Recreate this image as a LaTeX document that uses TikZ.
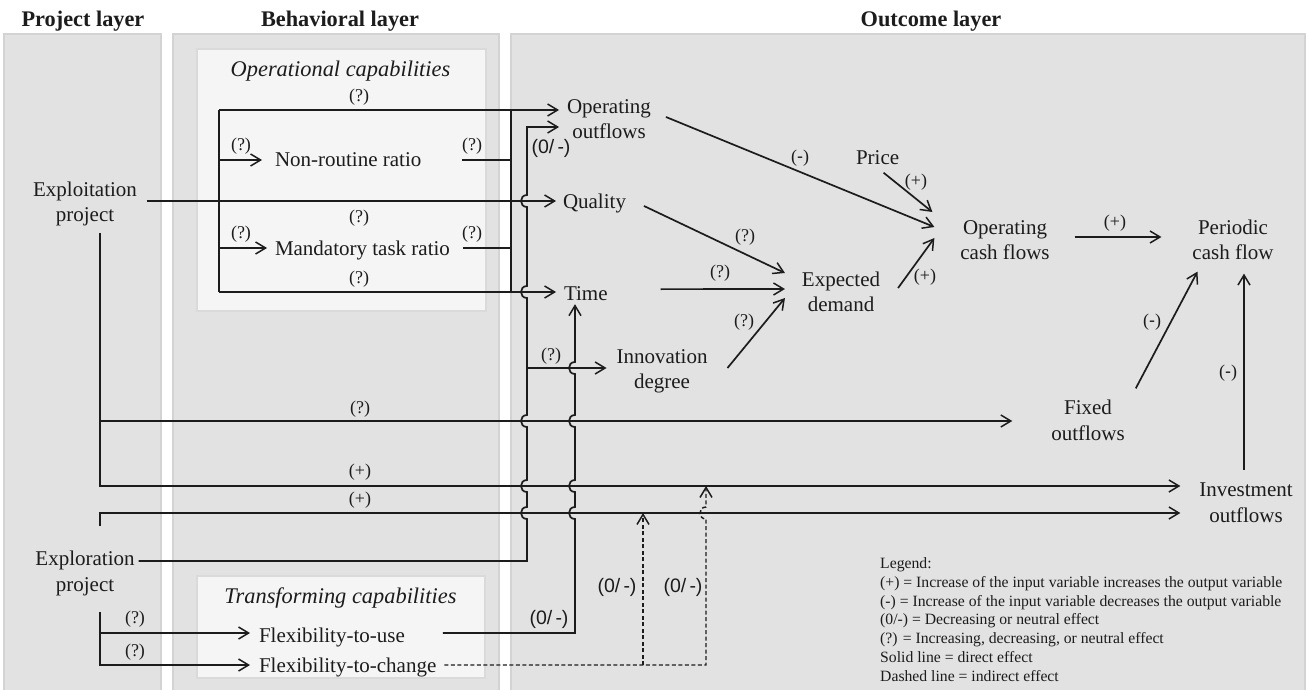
\documentclass[tikz,border=0pt]{standalone}
\usepackage{fontspec}
\setmainfont{Liberation Serif}
\newfontfamily\labsans{Liberation Sans}
\usetikzlibrary{arrows.meta,calc}
\definecolor{panelgray}{HTML}{E2E2E2}
\definecolor{panelline}{HTML}{D3D3D3}
\definecolor{boxgray}{HTML}{F5F5F5}
\definecolor{boxline}{HTML}{DADADA}
\definecolor{ink}{HTML}{1C1C1C}
\begin{document}
\begin{tikzpicture}[x=1pt,y=-1pt,
  panel/.style={fill=panelgray,draw=panelline,line width=1.3pt},
  inbox/.style={fill=boxgray,draw=boxline,line width=1.5pt},
  ln/.style={draw=ink,line width=1.7pt},
  arr/.style={-{Straight Barb[length=10pt,width=12pt,line width=1.5pt]}},
  dsh/.style={draw=ink,line width=1.45pt,dash pattern=on 4pt off 2.5pt},
  txt/.style={font=\fontsize{21}{25.5}\selectfont,inner sep=4pt,outer sep=0pt,align=center,text=ink},
  one/.style={font=\fontsize{21}{25.5}\selectfont,inner sep=4pt,outer sep=0pt,text=ink},
  ttl/.style={font=\bfseries\fontsize{22.3}{26}\selectfont,inner sep=0pt,text=ink},
  captl/.style={font=\itshape\fontsize{22.4}{26}\selectfont,inner sep=0pt,text=ink},
  lab/.style={font=\fontsize{18}{20}\selectfont,inner sep=0pt,text=ink},
  labs/.style={font=\labsans\fontsize{19.5}{21}\selectfont,inner sep=0pt,text=ink},
  leg/.style={font=\fontsize{15.7}{18.9}\selectfont,inner sep=0pt,text=ink},
  hopat/.style 2 args={insert path={-- (#1,#2+6) .. controls (#1-8,#2+6) and (#1-8,#2-6) .. (#1,#2-6)}},
]
\useasboundingbox (0,0) rectangle (1307,690);
\fill[white] (0,0) rectangle (1307,690);

% panels
\path[panel] (4,34) rectangle (161,700);
\path[panel] (173,34) rectangle (499,700);
\path[panel] (511,34) rectangle (1305,700);
\path[inbox] (197,49) rectangle (486,311);
\path[inbox] (197,576) rectangle (485,678);

% titles
\node[ttl,anchor=base] (tproj) at (83,27) {Project layer};
\node[ttl,anchor=base] (tbeh) at (340,27) {Behavioral layer};
\node[ttl,anchor=base] (tout) at (931,27) {Outcome layer};
\node[captl,anchor=base] (topc) at (340.5,77) {Operational capabilities};
\node[captl,anchor=base] (ttrc) at (340.5,603) {Transforming capabilities};

% nodes
\node[txt] (explt) at (85,204) {Exploitation\\project};
\node[txt] (explr) at (85,573.5) {Exploration\\project};
\node[one,anchor=base west] (nonr) at (271,167) {Non-routine ratio};
\node[one,anchor=base west] (mand) at (271,255) {Mandatory task ratio};
\node[txt] (opout) at (609,119) {Operating\\outflows};
\node[one,anchor=base west] (qual) at (559,208) {Quality};
\node[one,anchor=base west] (time) at (560,300) {Time};
\node[txt] (innov) at (662,371.5) {Innovation\\degree};
\node[one,anchor=base west] (price) at (852,164.5) {Price};
\node[txt] (ed) at (841,292) {Expected\\demand};
\node[txt] (ocf) at (1005,240) {Operating\\cash flows};
\node[txt] (pcf) at (1233,240) {Periodic\\cash flow};
\node[txt] (fixed) at (1088,420.5) {Fixed\\outflows};
\node[txt] (inv) at (1246,502.5) {Investment\\outflows};
\node[one,anchor=base west] (fuse) at (255,642) {Flexibility-to-use};
\node[one,anchor=base west] (fchg) at (255,672) {Flexibility-to-change};

% legend
\node[leg,anchor=base west] (lg0) at (880,568) {Legend:};
\node[leg,anchor=base west] (lg1) at (880,587) {(+) = Increase of the input variable increases the output variable};
\node[leg,anchor=base west] (lg2) at (880,606) {(-) = Increase of the input variable decreases the output variable};
\node[leg,anchor=base west] (lg3) at (880,624.5) {(0/-) = Decreasing or neutral effect};
\node[leg,anchor=base west] (lg4) at (880,643.5) {(?) = Increasing, decreasing, or neutral effect};
\node[leg,anchor=base west] (lg5) at (880,662.5) {Solid line = direct effect};
\node[leg,anchor=base west] (lg6) at (880,681) {Dashed line = indirect effect};

% coordinates
\coordinate (b1) at (219,110);
\coordinate (b2) at (219,292);
\coordinate (b3) at (219,160);
\coordinate (b4) at (219,248);
\coordinate (u1) at (511,110);
\coordinate (u2) at (511,292);
\coordinate (a1) at (527,561);
\coordinate (a2) at (527,127);
\coordinate (a3) at (527,368);
\coordinate (bb1) at (575,633);
\coordinate (c1) at (100,486);
\coordinate (c2) at (100,421);
\coordinate (e1) at (100,526);
\coordinate (e2) at (100,513);
\coordinate (e3) at (100,612);
\coordinate (e4) at (100,665);
\coordinate (e5) at (100,633);
\coordinate (d0) at (706,665);
\coordinate (d1) at (706,486);
\coordinate (d2) at (643,665);
\coordinate (d3) at (643,513);

% Exploitation -> Quality and operational bracket
\draw[ln,arr,shorten <=6pt,shorten >=3pt] (explt.east |- 0,201) -- (qual.west |- 0,201);
\draw[ln,arr,shorten >=4pt] (b1) -- (opout.west |- b1);
\draw[ln] (b1) -- (b2);
\draw[ln,arr,shorten >=4pt] (b2) -- (time.west |- b2);
\draw[ln,arr,shorten >=9pt] (b3) -- (nonr.west |- b3);
\draw[ln,arr,shorten >=4pt] (b4) -- (mand.west |- b4);
\draw[ln] (u1) -- (u2);
\draw[ln,shorten <=37pt] (nonr.east |- b3) -- (u1 |- b3);
\draw[ln,shorten <=9pt] (mand.east |- b4) -- (u1 |- b4);

% Exploration -> Operating outflows (with hops)
\draw[ln,arr,shorten >=4pt] (explr.east |- a1) -- (a1) [hopat={527}{513}] [hopat={527}{486}] [hopat={527}{421}] [hopat={527}{292}] [hopat={527}{201}] -- (a2) -- (opout.west |- a2);
\draw[ln,arr,shorten >=6pt] (a3) -- (innov.west |- a3);

% Flexibility-to-use -> Time
\draw[ln,arr,shorten <=34pt] (fuse.east |- bb1) -- (bb1) [hopat={575}{513}] [hopat={575}{486}] [hopat={575}{421}] [hopat={575}{368}] -- (time.south -| bb1);

% Exploitation down
\draw[ln,arr,shorten <=3pt,shorten >=15pt] (explt.south -| c1) -- (c1) -- (inv.west |- c1);
\draw[ln,arr,shorten >=35pt] (c2) -- (fixed.west |- c2);

% Exploration branches
\draw[ln,arr,shorten >=15pt] (e1) -- (e2) -- (inv.west |- e2);
\draw[ln,arr,shorten >=5pt] (e3) -- (e4) -- (fchg.west |- e4);
\draw[ln,arr,shorten >=5pt] (e5) -- (fuse.west |- e5);

% dashed indirect effects
\draw[dsh,arr,shorten <=4pt] (fchg.east |- d0) -- (d0) [hopat={706}{513}] -- (d1);
\draw[dsh,arr] (d2) -- (d3);

% diagonals in outcome layer
\draw[ln,arr] ($(opout.east)+(11,-2)$) -- ($(ocf.west)+(-22,-13)$);
\draw[ln,arr] ($(price.south)+(6,4)$) -- ($(ocf.west)+(-24,-28)$);
\draw[ln,arr] ($(qual.east)+(14,3)$) -- ($(ed.west)+(-13,-19)$);
\draw[ln,arr] ($(time.east)+(49,-4)$) -- ($(ed.west)+(-13,-3)$);
\draw[ln,arr] ($(innov.east)+(16,-3.5)$) -- ($(ed.west)+(-13,6)$);
\draw[ln,arr] ($(ed.east)+(14,-4)$) -- ($(ocf.west)+(-22,-2)$);
\draw[ln,arr] ($(ocf.east)+(21,-3)$) -- ($(pcf.west)+(-27,-3)$);
\draw[ln,arr] ($(fixed.north east)+(7,-8)$) -- ($(pcf.south west)+(9,7.5)$);
\draw[ln,arr] ($(inv.north)+(-2,-9)$) -- ($(pcf.south)+(11,9.5)$);

% labels
\node[lab] (q1) at (359,97) {(?)};
\node[lab] (q2) at (241,146) {(?)};
\node[lab] (q3) at (472,146) {(?)};
\node[lab] (q4) at (359,218) {(?)};
\node[lab] (q5) at (241,234) {(?)};
\node[lab] (q6) at (472,234) {(?)};
\node[lab] (q7) at (359,279) {(?)};
\node[labs] (z1) at (551,148) {(0/\,-)};
\node[lab] (q8) at (551,356) {(?)};
\node[lab] (m1) at (800,158) {({\labsans -})};
\node[lab] (p1) at (916,182) {(+)};
\node[lab] (q9) at (745,237) {(?)};
\node[lab] (q10) at (720,273) {(?)};
\node[lab] (q11) at (744,322) {(?)};
\node[lab] (p2) at (925,277) {(+)};
\node[lab] (p3) at (1115,223) {(+)};
\node[lab] (m2) at (1152,322) {({\labsans -})};
\node[lab] (m3) at (1228,373) {({\labsans -})};
\node[lab] (q12) at (360,409) {(?)};
\node[lab] (p4) at (360,472) {(+)};
\node[lab] (p5) at (360,500) {(+)};
\node[lab] (q13) at (135,619) {(?)};
\node[lab] (q14) at (135,652) {(?)};
\node[labs] (z2) at (549,619) {(0/\,-)};
\node[labs] (z3) at (617,587) {(0/\,-)};
\node[labs] (z4) at (683,587) {(0/\,-)};
\end{tikzpicture}
\end{document}
